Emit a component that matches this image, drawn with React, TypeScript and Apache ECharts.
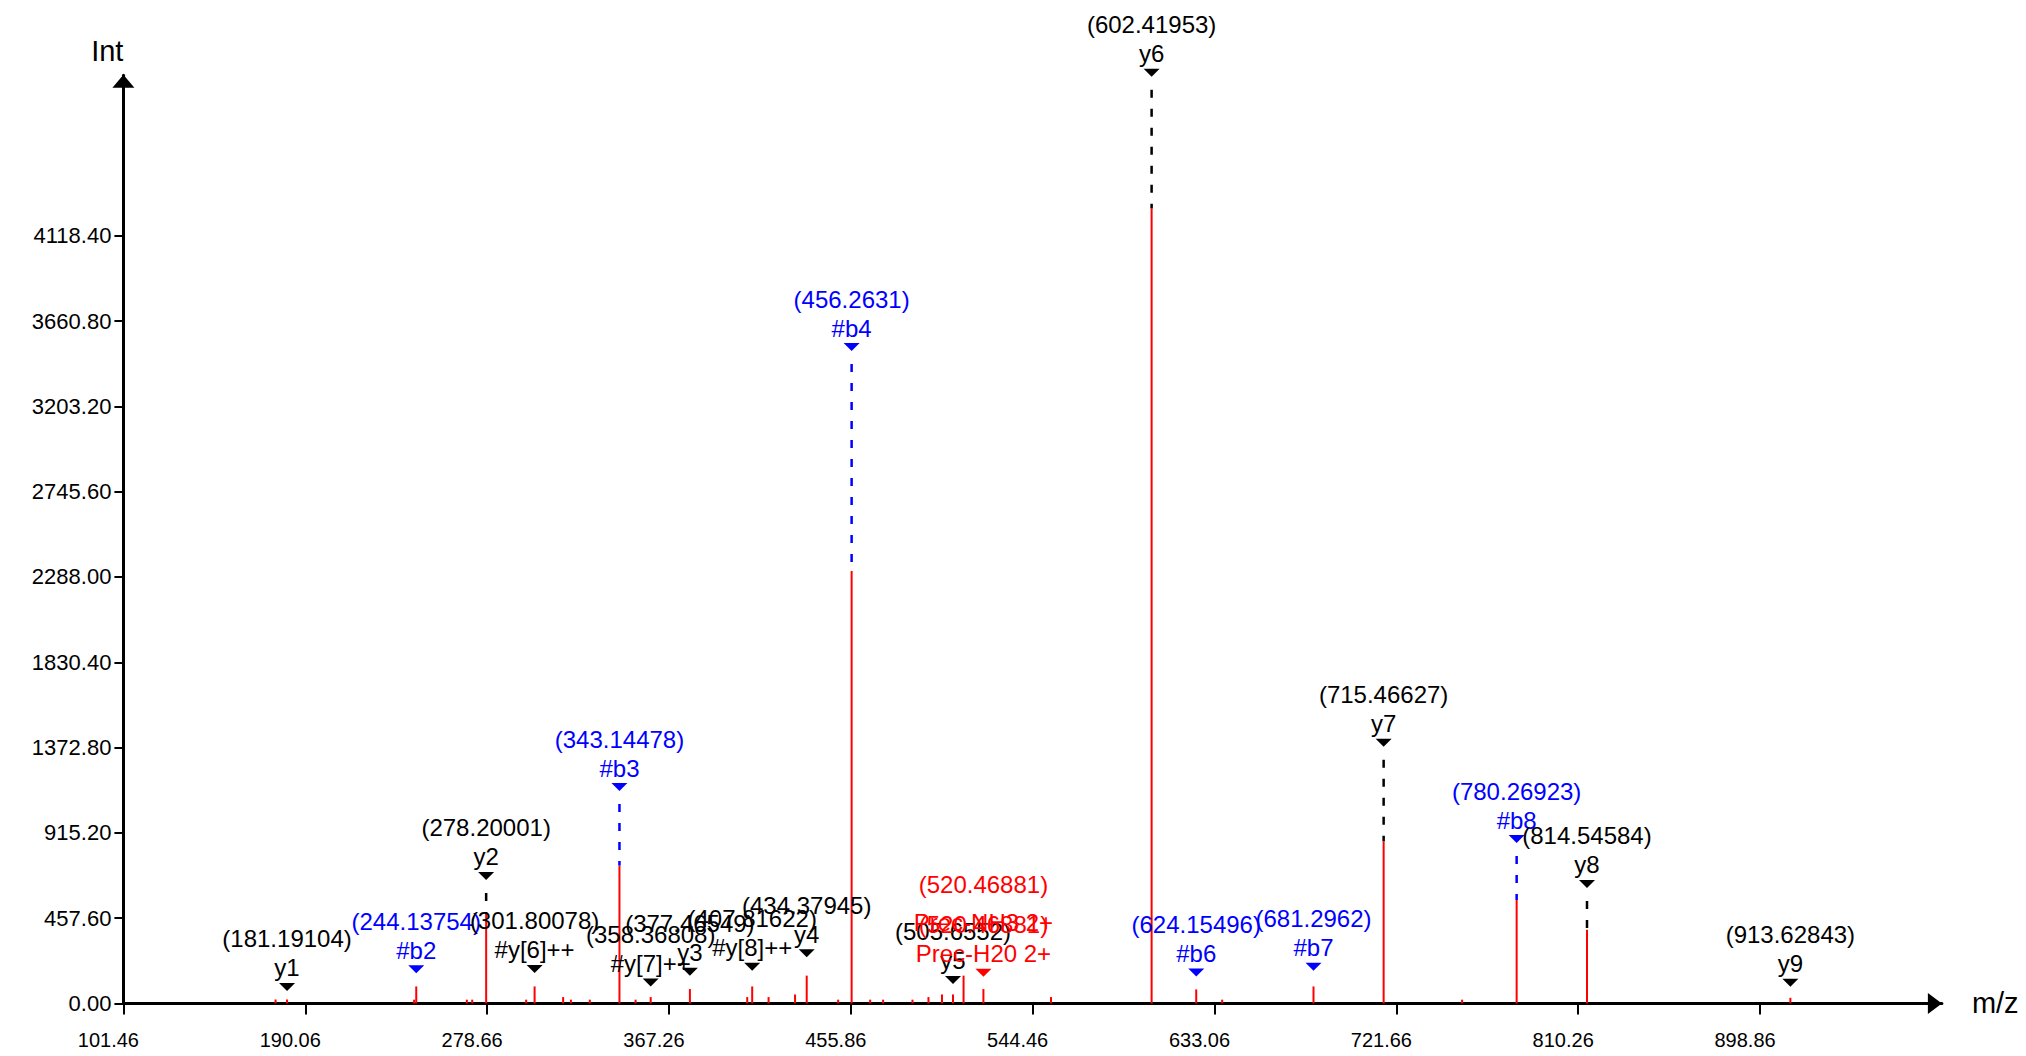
import React, { useEffect, useRef } from 'react';
import * as echarts from 'echarts';

// ---- axis data ----
const xTicks = [101.46, 190.06, 278.66, 367.26, 455.86, 544.46, 633.06, 721.66, 810.26, 898.86];
const yTicks = [0, 457.6, 915.2, 1372.8, 1830.4, 2288, 2745.6, 3203.2, 3660.8, 4118.4];
const xMin = 101.46;
const xMax = 987.46;
const yMin = 0;
const yMax = 4980;

// ---- spectrum peaks (m/z, intensity) ----
const peakMz = [
  175.6, 181.19104, 243.1, 244.13754, 268.8, 271.4, 278.20001, 297.7, 301.80078, 315.7,
  319.5, 328.7, 343.14478, 351.0, 358.36808, 377.46549, 405.4, 407.81622, 415.8, 428.7,
  434.37945, 449.7, 456.2631, 465.3, 471.6, 485.9, 493.7, 500.3, 505.6552, 510.8,
  520.46881, 553.4, 602.41953, 624.15496, 636.8, 681.2962, 715.46627, 753.7, 780.26923, 814.54584,
  913.62843,
];
const peakInt = [
  21, 21, 20, 91, 20, 20, 485, 20, 91, 34,
  20, 20, 740, 20, 34, 77, 34, 91, 34, 48,
  149, 20, 2320, 20, 20, 20, 34, 48, 48, 149,
  77, 34, 4265, 75, 20, 91, 870, 20, 555, 395,
  30,
];

// ---- annotations ----
const annMz = [
  181.19104, 244.13754, 278.20001, 301.80078, 343.14478, 358.36808, 377.46549, 407.81622,
  434.37945, 456.2631, 505.6552, 520.46881, 520.46881, 602.41953, 624.15496, 681.2962,
  715.46627, 780.26923, 814.54584, 913.62843,
];
const annLabel = [
  'y1', '#b2', 'y2', '#y[6]++', '#b3', '#y[7]++', 'y3', '#y[8]++',
  'y4', '#b4', 'y5', 'Prec-H20 2+', 'Prec-NH3 2+', 'y6', '#b6', '#b7',
  'y7', '#b8', 'y8', 'y9',
];
// height (intensity units) at which each marker sits
const annMarkerInt = [
  88, 183, 684, 185, 1161, 112, 170, 197,
  269, 3522, 126, 165, 165, 4994, 166, 197,
  1399, 882, 641, 111,
];
// stacking level of an annotation sharing a peak with another
const annLevel = [
  0, 0, 0, 0, 0, 0, 0, 0,
  0, 0, 0, 0, 1, 0, 0, 0,
  0, 0, 0, 0,
];

const FONT = "'Liberation Sans', Arial, Helvetica, sans-serif";

function annColor(label: string): string {
  if (label.startsWith('#b')) return '#0000ff';
  if (label.startsWith('Prec')) return '#ff0000';
  return '#000000';
}

function peakIntensityAt(mz: number): number {
  let best = 0;
  let bestD = Infinity;
  for (let i = 0; i < peakMz.length; i++) {
    const d = Math.abs(peakMz[i] - mz);
    if (d < bestD) {
      bestD = d;
      best = i;
    }
  }
  return peakInt[best];
}

export default function App() {
  const ref = useRef<HTMLDivElement>(null);

  useEffect(() => {
    if (!ref.current) return;
    const chart = echarts.init(ref.current, undefined, { renderer: 'svg' });

    const peakData = peakMz.map((m, i) => [m, peakInt[i]]);
    const annData = annMz.map((m, i) => [m, annMarkerInt[i], peakIntensityAt(m), i]);

    const option: any = {
      animation: false,
      backgroundColor: '#ffffff',
      textStyle: { fontFamily: FONT },
      grid: { left: 123.4, right: 84.1, top: 75.3, bottom: 52.6, containLabel: false },
      xAxis: {
        type: 'value',
        min: xMin,
        max: xMax,
        name: 'm/z',
        nameLocation: 'end',
        nameGap: 30,
        nameTextStyle: { fontSize: 29, color: '#000', fontFamily: FONT },
        axisLine: {
          show: true,
          onZero: false,
          symbol: ['none', 'triangle'],
          symbolSize: [21, 14],
          symbolOffset: [0, -7],
          lineStyle: { color: '#000', width: 3 },
        },
        axisTick: {
          show: true,
          inside: false,
          length: 11,
          customValues: xTicks,
          lineStyle: { color: '#000', width: 2 },
        },
        axisLabel: {
          show: true,
          customValues: xTicks,
          margin: 27,
          fontSize: 20,
          color: '#000',
          fontFamily: FONT,
          padding: [0, 30, 0, 0],
          formatter: (v: number, idx: number) =>
            idx === 0 ? '{first|' + v.toFixed(2) + '}' : v.toFixed(2),
          rich: {
            first: { fontSize: 20, fontFamily: FONT, color: '#000', padding: [0, 0, 0, 20] },
          },
        },
        splitLine: { show: false },
      },
      yAxis: {
        type: 'value',
        min: yMin,
        max: yMax,
        name: 'Int',
        nameLocation: 'end',
        nameGap: 10,
        nameTextStyle: { fontSize: 29, color: '#000', fontFamily: FONT, align: 'right' },
        axisLine: {
          show: true,
          onZero: false,
          symbol: ['none', 'triangle'],
          symbolSize: [22, 13],
          symbolOffset: [0, -6],
          lineStyle: { color: '#000', width: 3 },
        },
        axisTick: {
          show: true,
          inside: false,
          length: 9,
          customValues: yTicks,
          lineStyle: { color: '#000', width: 2 },
        },
        axisLabel: {
          show: true,
          customValues: yTicks,
          margin: 12,
          fontSize: 22,
          color: '#000',
          fontFamily: FONT,
          formatter: (v: number) => v.toFixed(2),
        },
        splitLine: { show: false },
      },
      series: [
        {
          type: 'custom',
          name: 'peaks',
          coordinateSystem: 'cartesian2d',
          silent: true,
          clip: false,
          z: 2,
          data: peakData,
          encode: { x: 0, y: 1 },
          renderItem: (_params: any, api: any) => {
            const base = api.coord([api.value(0), 0]);
            const top = api.coord([api.value(0), api.value(1)]);
            return {
              type: 'line',
              shape: { x1: base[0], y1: base[1], x2: top[0], y2: top[1] },
              style: { stroke: '#ff0000', lineWidth: 2 },
            };
          },
        },
        {
          type: 'custom',
          name: 'annotations',
          coordinateSystem: 'cartesian2d',
          silent: true,
          clip: false,
          z: 3,
          data: annData,
          encode: { x: 0, y: 1 },
          renderItem: (params: any, api: any) => {
            const i = params.dataIndex;
            const label = annLabel[i];
            const color = annColor(label);
            const level = annLevel[i];
            const mk = api.coord([api.value(0), api.value(1)]);
            const pk = api.coord([api.value(0), api.value(2)]);
            const x = mk[0];
            const my = mk[1];
            const children: any[] = [];
            if (level === 0) {
              const dashStart = my + 17;
              if (pk[1] - dashStart > 8) {
                children.push({
                  type: 'line',
                  shape: { x1: x, y1: dashStart, x2: x, y2: pk[1] },
                  style: { stroke: color, lineWidth: 2.5, lineDash: [8, 11] },
                });
              }
              children.push({
                type: 'polygon',
                shape: { points: [[x - 8, my - 4], [x + 8, my - 4], [x, my + 4]] },
                style: { fill: color, stroke: null },
              });
            }
            const labelY = level === 0 ? my - 19 : my - 50;
            const mzY = level === 0 ? my - 48 : my - 88;
            children.push({
              type: 'text',
              x,
              y: labelY,
              style: {
                text: label,
                fill: color,
                fontSize: 24,
                fontFamily: FONT,
                align: 'center',
                verticalAlign: 'middle',
              },
            });
            children.push({
              type: 'text',
              x,
              y: mzY,
              style: {
                text: '(' + String(annMz[i]) + ')',
                fill: color,
                fontSize: 24,
                fontFamily: FONT,
                align: 'center',
                verticalAlign: 'middle',
              },
            });
            return { type: 'group', children };
          },
        },
      ],
    };

    chart.setOption(option);
    return () => {
      chart.dispose();
    };
  }, []);

  return (
    <div
      ref={ref}
      style={{ position: 'fixed', left: 0, top: 0, width: 2026, height: 1056, background: '#fff' }}
    />
  );
}
